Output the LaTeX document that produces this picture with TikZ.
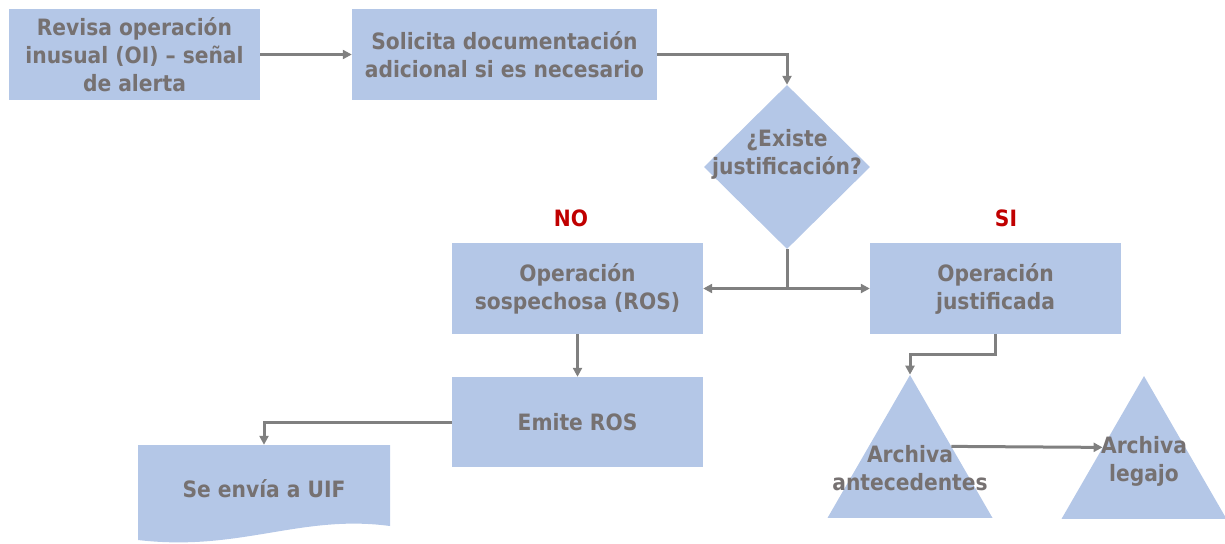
\documentclass[tikz,border=0pt]{standalone}
\usepackage{fontspec}
\setmainfont{DejaVu Sans Condensed}[BoldFont={DejaVu Sans Condensed Bold}]
\usetikzlibrary{shapes.geometric,arrows.meta}
\definecolor{boxblue}{RGB}{180,199,231}
\definecolor{txtgray}{RGB}{118,113,113}
\definecolor{arrgray}{RGB}{128,128,128}
\definecolor{labred}{RGB}{192,0,0}
\tikzset{
	txt/.style={font=\fontsize{22.5}{28}\selectfont\bfseries, text=txtgray, align=center},
	box/.style={txt, fill=boxblue, minimum width=251, minimum height=91, inner sep=0},
	tri/.style={regular polygon, regular polygon sides=3, minimum size=190.5, fill=boxblue, inner sep=0},
	arr/.style={->, >={Triangle[length=9pt,width=9pt]}, draw=arrgray, line width=3pt},
	lab/.style={font=\fontsize{22.5}{28}\selectfont\bfseries, text=labred}
}
\begin{document}
\begin{tikzpicture}[x=1pt,y=-1pt]
	\useasboundingbox (0,0) rectangle (1225,543);
	\node[box] (oi) at (134.5,54.5) {Revisa operación\\inusual (OI) – señal\\de alerta};
	\node[box, minimum width=305] (doc) at (504.5,54.5) {Solicita documentación\\adicional si es necesario};
	\node[diamond, fill=boxblue, minimum width=166, minimum height=164, inner sep=0] (just) at (787,167) {};
	\node[txt] (justt) at (787,154) {¿Existe\\justificación?};
	\node[box] (ros) at (577.5,288.5) {Operación\\sospechosa (ROS)};
	\node[box] (okjust) at (995.5,288.5) {Operación\\justificada};
	\node[lab] (no) at (571,218) {NO};
	\node[lab] (si) at (1006,218) {SI};
	\node[box, minimum height=90] (emite) at (577.5,422) {Emite ROS};
	
	\fill[boxblue] (138,445) -- (390,445) -- (390,526) .. controls (300,514) and (240,552) .. (138,540) -- cycle;
	\node[txt, minimum width=252, minimum height=88] (uif) at (264,489) {Se envía a UIF};
	
	\node[tri] (arch1) at (910,470.3) {};
	\node[tri] (arch2) at (1144,471.3) {};
	\node[txt] (arch1t) at (910,468) {Archiva\\antecedentes};
	\node[txt] (arch2t) at (1144,461) {Archiva\\legajo};
	
	\coordinate (split) at (just.south |- ros.east);
	\draw[arr] (oi) -- (doc);
	\draw[arr] (doc.east) -| (just.north);
	\draw[arr, -] (just.south) -- (split);
	\draw[arr] (split) -- (ros.east);
	\draw[arr] (split) -- (okjust.west);
	\draw[arr] (ros) -- (emite);
	\draw[arr] (emite.west) -| (uif.north);
	\draw[arr] (okjust.south) -- ++(0,20) -| (arch1.corner 1);
	\draw[arr] (arch1.side 3) -- (arch2.side 1);
\end{tikzpicture}
\end{document}
